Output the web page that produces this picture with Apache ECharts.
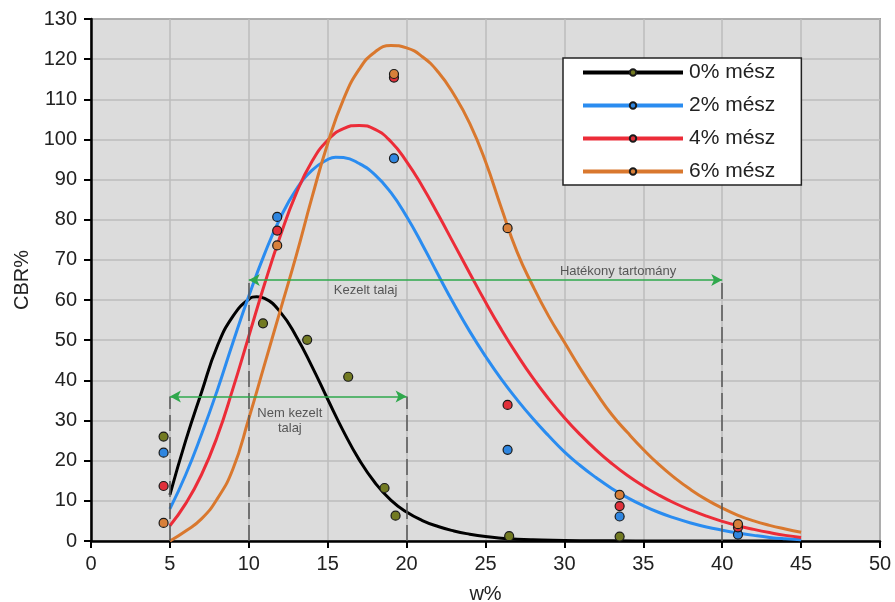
<!DOCTYPE html>
<html>
<head>
<meta charset="utf-8">
<script src="https://cdn.jsdelivr.net/npm/echarts@6/dist/echarts.min.js"></script>
<style>
  html, body { margin: 0; padding: 0; background: #fff; }
  #chart { width: 895px; height: 602px; }
</style>
</head>
<body>
<div id="chart"></div>
<script>
  // fitted curves
  const curve0 = [[5, 11.5], [6, 25], [7, 37], [8, 48.5], [9, 56], [10, 60.2], [10.5, 60.8], [11, 60.4], [12, 57], [13, 51], [14, 43.5], [15, 35.3], [16, 27.3], [17, 20.2], [18, 14.5], [19, 10.2], [20, 7.2], [21, 5.1], [22, 3.6], [23, 2.5], [24, 1.7], [25, 1.1], [26, 0.7], [27, 0.45], [28, 0.3], [30, 0.12], [33, 0.04], [36, 0], [40, 0], [45, 0]]
  const curve2 = [[5, 8], [6, 16.5], [7, 26.5], [8, 37.5], [9, 49.5], [10, 61], [11, 71.5], [12, 80.5], [13, 87.5], [14, 92.3], [15, 95], [15.5, 95.6], [16, 95.5], [17, 94], [18, 91.2], [19, 86.8], [20, 80.8], [21, 73.8], [22, 66.3], [23, 59], [24, 52.2], [25, 46], [26, 40.3], [27, 35.2], [28, 30.5], [29, 26.2], [30, 22.2], [31, 18.8], [32, 15.8], [33, 13.1], [34, 10.8], [35, 8.8], [36, 7.1], [37, 5.7], [38, 4.5], [39, 3.5], [40, 2.7], [41, 2], [42, 1.4], [43, 0.9], [44, 0.55], [45, 0.3]]
  const curve4 = [[5, 3.8], [6, 9.3], [7, 16.5], [8, 26], [9, 38], [10, 51], [11, 64], [12, 76], [13, 86.5], [14, 94.5], [15, 99.8], [16, 102.7], [17, 103.5], [18, 102.5], [19, 99.5], [20, 94.5], [21, 88.3], [22, 81.3], [23, 74], [24, 66.7], [25, 59.5], [26, 52.7], [27, 46.4], [28, 40.6], [29, 35.4], [30, 30.7], [31, 26.5], [32, 22.7], [33, 19.3], [34, 16.3], [35, 13.7], [36, 11.4], [37, 9.4], [38, 7.7], [39, 6.2], [40, 4.9], [41, 3.8], [42, 2.9], [43, 2.1], [44, 1.4], [45, 0.9]]
  const curve6 = [[5, 0], [6, 2.5], [7, 5.5], [8, 10.5], [9, 18], [10, 30.5], [11, 44], [12, 57.5], [13, 71], [14, 85.5], [15, 99], [16, 110], [17, 117.5], [18, 121.8], [19, 123.4], [20, 122.8], [21, 120.6], [22, 116.8], [23, 111.2], [24, 104], [25, 94.5], [26, 83], [27, 72], [28, 63.5], [29, 56], [30, 49.5], [31, 43], [32, 37], [33, 31.5], [34, 27], [35, 22.8], [36, 19], [37, 15.7], [38, 12.8], [39, 10.3], [40, 8.2], [41, 6.4], [42, 5], [43, 3.9], [44, 3], [45, 2.2]]

  // measured points
  const pts0 = [[4.6, 26], [10.9, 54.2], [13.7, 50.1], [16.3, 40.9], [18.6, 13.2], [19.3, 6.3], [26.5, 1.2], [33.5, 1.1]]
  const pts2 = [[4.6, 22], [11.8, 80.7], [19.2, 95.3], [26.4, 22.7], [33.5, 6.1], [41, 1.6]]
  const pts4 = [[4.6, 13.7], [11.8, 77.3], [19.2, 115.4], [26.4, 33.9], [33.5, 8.7], [41, 3.4]]
  const pts6 = [[4.6, 4.5], [11.8, 73.6], [19.2, 116.3], [26.4, 77.9], [33.5, 11.5], [41, 4.2]]

  const names = ['0% mész', '2% mész', '4% mész', '6% mész']

  // annotation ranges and texts
  const untreated = [5, 20, 36]     // from, to, level
  const effective = [10, 40, 65]
  const notes = [
    [17.4, 62.3, 'Kezelt talaj'],
    [33.4, 67.2, 'Hatékony tartomány'],
    [12.6, 29.9, 'Nem kezelt\ntalaj']
  ]

  const lineColors = ['#000000', '#2a8cf0', '#ec2c38', '#d9782e']
  const dotColors = ['#727a22', '#2f86e0', '#e0303a', '#d8803a']

  const chart = echarts.init(document.getElementById('chart'))

  const series = []
  const curves = [curve0, curve2, curve4, curve6]
  const points = [pts0, pts2, pts4, pts6]
  curves.forEach((c, i) => {
    series.push({
      name: names[i],
      type: 'line',
      data: c,
      smooth: 0.5,
      showSymbol: false,
      symbol: 'circle',
      symbolSize: 9,
      lineStyle: { color: lineColors[i], width: 3 },
      itemStyle: { color: dotColors[i], borderColor: '#1a1a1a', borderWidth: 1.5 },
      z: 3
    })
  })
  points.forEach((p, i) => {
    series.push({
      name: names[i] + ' pont',
      type: 'scatter',
      data: p,
      symbolSize: 9,
      itemStyle: { color: dotColors[i], borderColor: '#1a1a1a', borderWidth: 1.2, opacity: 1 },
      z: 4
    })
  })

  const dash = (x, top) => [{ coord: [x, 0] }, { coord: [x, top] }]
  series.push({
    name: 'jelolesek',
    type: 'scatter',
    data: notes,
    symbolSize: 0,
    label: {
      show: true,
      position: 'inside',
      formatter: (p) => p.value[2],
      fontFamily: 'Liberation Sans',
      fontSize: 13,
      lineHeight: 15,
      color: '#333'
    },
    markLine: {
      silent: true,
      symbol: 'none',
      label: { show: false },
      lineStyle: { color: '#555', width: 1.5, type: [16, 6] },
      data: [
        dash(untreated[0], untreated[2]),
        dash(untreated[1], untreated[2]),
        dash(effective[0], effective[2]),
        dash(effective[1], effective[2]),
        [
          { coord: [untreated[0], untreated[2]], symbol: 'arrow', lineStyle: { color: '#2fa84c', type: 'solid', width: 1.5 } },
          { coord: [untreated[1], untreated[2]], symbol: 'arrow' }
        ],
        [
          { coord: [effective[0], effective[2]], symbol: 'arrow', lineStyle: { color: '#2fa84c', type: 'solid', width: 1.5 } },
          { coord: [effective[1], effective[2]], symbol: 'arrow' }
        ]
      ],
      symbolSize: [9, 11]
    },
    z: 2
  })

  chart.setOption({
    backgroundColor: '#ffffff',
    animation: false,
    textStyle: { fontFamily: 'Liberation Sans' },
    grid: {
      left: 91,
      right: 15,
      top: 19,
      bottom: 61,
      outerBoundsMode: 'none',
      show: true,
      backgroundColor: '#dcdcdc',
      borderColor: '#555',
      borderWidth: 1.5
    },
    legend: {
      data: names,
      orient: 'vertical',
      left: 563,
      top: 58,
      backgroundColor: '#ffffff',
      borderColor: '#222',
      borderWidth: 1.5,
      padding: [4, 26, 3, 18],
      itemWidth: 100,
      itemHeight: 8,
      itemGap: 12,
      lineStyle: { width: 4 },
      textStyle: { fontSize: 21, color: '#222', lineHeight: 20, padding: [0, 0, 0, 1] }
    },
    xAxis: {
      type: 'value',
      min: 0,
      max: 50,
      interval: 5,
      name: 'w%',
      nameLocation: 'middle',
      nameGap: 43,
      nameTextStyle: { fontSize: 20, color: '#222' },
      axisLine: { lineStyle: { color: '#000', width: 2.5 } },
      axisTick: { length: 7, lineStyle: { color: '#000', width: 2 } },
      axisLabel: { fontSize: 20, color: '#222', margin: 13 },
      splitLine: { lineStyle: { color: '#bcbcbc', width: 1.5 } }
    },
    yAxis: {
      type: 'value',
      min: 0,
      max: 130,
      interval: 10,
      name: 'CBR%',
      nameLocation: 'middle',
      nameGap: 51,
      nameTextStyle: { fontSize: 20, color: '#222' },
      axisLine: { show: true, lineStyle: { color: '#000', width: 2.5 } },
      axisTick: { show: true, length: 7, lineStyle: { color: '#000', width: 2 } },
      axisLabel: { fontSize: 20, color: '#222', margin: 14 },
      splitLine: { lineStyle: { color: '#bcbcbc', width: 1.5 } }
    },
    series: series
  })
</script>
</body>
</html>
